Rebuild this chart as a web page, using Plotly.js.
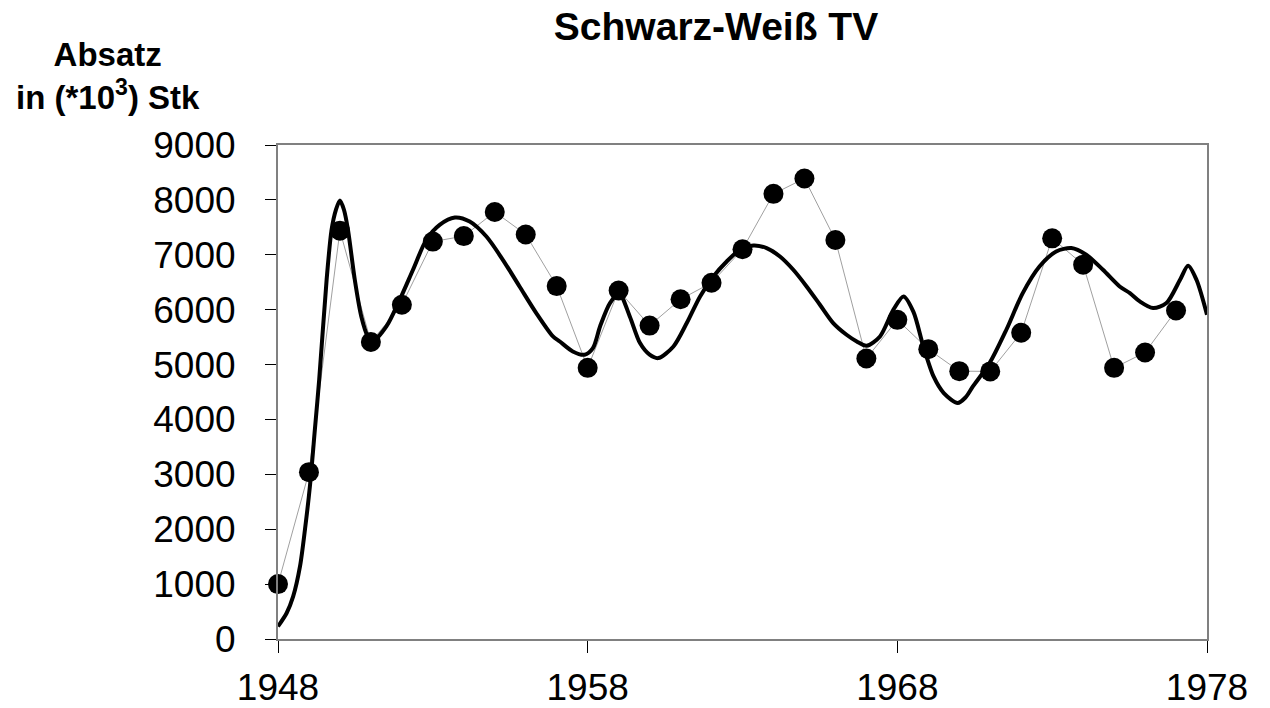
<!DOCTYPE html>
<html>
<head>
<meta charset="utf-8">
<script src="https://cdn.plot.ly/plotly-3.0.1.min.js"></script>
<style>
html,body{margin:0;padding:0;background:#fff;}
#chart{width:1270px;height:708px;}
</style>
</head>
<body>
<div id="chart"></div>
<script>
// Observed sales (Absatz, thousands of units)
const years = [1948,1949,1950,1951,1952,1953,1954,1955,1956,1957,1958,1959,1960,1961,1962,1963,1964,1965,1966,1967,1968,1969,1970,1971,1972,1973,1974,1975,1976,1977];
const sales = [1000,3040,7440,5410,6090,7240,7340,7780,7370,6430,4940,6350,5710,6190,6490,7100,8110,8390,7270,5110,5815,5280,4880,4875,5580,7300,6820,4940,5220,5985];

// Fitted model curve
const fitYears = [1948.0,1948.28,1948.49,1948.71,1948.87,1949.03,1949.19,1949.33,1949.57,1949.73,1949.87,1950.0,1950.13,1950.26,1950.48,1950.69,1950.9,1951.05,1951.5,1951.93,1952.36,1952.79,1953.22,1953.71,1954.19,1954.73,1955.26,1955.8,1956.34,1956.88,1957.1,1957.52,1957.9,1958.17,1958.4,1958.72,1959.02,1959.36,1959.69,1960.0,1960.28,1960.77,1961.2,1961.63,1962.06,1962.49,1962.92,1963.35,1963.78,1964.21,1964.64,1965.07,1965.5,1965.93,1966.36,1966.69,1967.01,1967.44,1967.87,1968.2,1968.52,1968.84,1969.17,1969.5,1969.95,1970.2,1970.44,1970.98,1971.52,1972.05,1972.59,1973.13,1973.62,1974.1,1974.64,1975.18,1975.51,1975.83,1976.26,1976.69,1977.13,1977.39,1977.66,1978.0];
const fitValues = [230,474,776,1322,1991,2780,3812,4723,6545,7455,7820,7990,7820,7455,6545,5877,5512,5420,5694,6180,6727,7273,7546,7680,7607,7333,6909,6423,5938,5512,5420,5239,5179,5300,5694,6120,6290,5877,5391,5180,5118,5330,5756,6241,6605,6878,7091,7170,7122,6969,6727,6423,6090,5756,5543,5421,5343,5512,5998,6241,5960,5330,4783,4480,4300,4400,4601,5027,5634,6302,6787,7060,7122,7000,6727,6423,6302,6150,6029,6120,6545,6800,6545,5907];

const xTicks = [1948,1958,1968,1978];
const yTicks = [0,1000,2000,3000,4000,5000,6000,7000,8000,9000];

const font = 'Liberation Sans, Arial, sans-serif';

const traces = [
  {
    x: years, y: sales, type: 'scatter', mode: 'lines+markers',
    line: {color: '#a0a0a0', width: 1},
    marker: {color: '#000', size: 20},
    cliponaxis: false,
    hoverinfo: 'x+y', showlegend: false
  },
  {
    x: fitYears, y: fitValues, type: 'scatter', mode: 'lines',
    line: {color: '#000', width: 4, shape: 'spline', smoothing: 0.8},
    hoverinfo: 'skip', showlegend: false
  }
];

const layout = {
  width: 1270, height: 708,
  paper_bgcolor: '#fff', plot_bgcolor: '#fff',
  margin: {l: 278, r: 63, t: 145, b: 69},
  font: {family: font, color: '#000'},
  showlegend: false,
  title: {
    text: '<b>Schwarz-Weiß TV</b>',
    font: {family: font, size: 39, color: '#000'},
    x: 716/1270, xanchor: 'center', xref: 'container',
    y: 1 - 26/708, yanchor: 'middle', yref: 'container'
  },
  xaxis: {
    range: [1948, 1978],
    tickvals: xTicks, ticktext: xTicks.map(String),
    ticks: 'outside', ticklen: 12, tickwidth: 1, tickcolor: '#000',
    showline: true, linecolor: '#808080', linewidth: 2, mirror: true,
    showgrid: false, zeroline: false,
    tickfont: {family: font, size: 37, color: '#000'},
    ticklabelstandoff: 3
  },
  yaxis: {
    range: [0, 9000],
    tickvals: yTicks, ticktext: yTicks.map(String),
    ticks: 'outside', ticklen: 11, tickwidth: 1, tickcolor: '#000',
    showline: true, linecolor: '#808080', linewidth: 2, mirror: true,
    showgrid: false, zeroline: false,
    tickfont: {family: font, size: 37, color: '#000'},
    ticklabelstandoff: 22
  },
  annotations: [
    {
      text: '<b>Absatz</b><br><b>in (*10<sup>3</sup>) Stk</b>',
      xref: 'paper', yref: 'paper',
      x: (108 - 278) / 929, y: 1 + (145 - 76) / 494,
      xanchor: 'center', yanchor: 'middle',
      showarrow: false, align: 'center',
      font: {family: font, size: 33, color: '#000'}
    }
  ]
};

Plotly.newPlot('chart', traces, layout, {displayModeBar: false, staticPlot: true});
</script>
</body>
</html>
